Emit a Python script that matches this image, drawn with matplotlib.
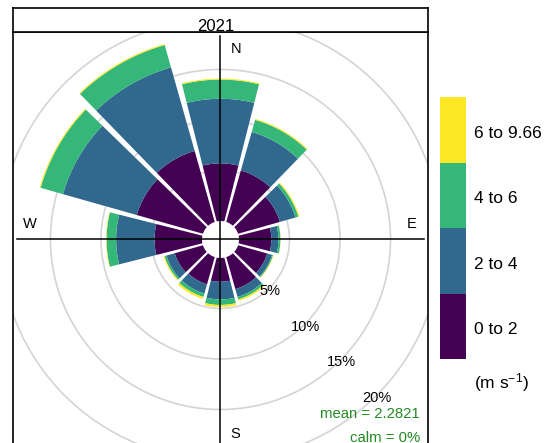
import numpy as np
import matplotlib.pyplot as plt
from matplotlib.patches import Polygon, Circle

plt.rcParams['font.family'] = ['Liberation Sans', 'DejaVu Sans']
plt.rcParams['mathtext.default'] = 'regular'

# === data: frequency (%) per direction and speed band ===
directions = [0, 30, 60, 90, 120, 150, 180, 210, 240, 270, 300, 330]
band_0_2 = [5.7, 5.3, 4.3, 3.2, 3.0, 3.3, 2.35, 2.8, 2.9, 4.7, 6.8, 7.3]
band_2_4 = [6.4, 3.95, 1.6, 0.7, 0.5, 0.8, 1.75, 0.95, 0.85, 3.8, 7.6, 8.6]
band_4_6 = [1.9, 1.25, 0.3, 0.2, 0.1, 0.25, 0.55, 0.35, 0.2, 0.95, 2.3, 2.3]
band_6_max = [0.1, 0.1, 0.1, 0.02, 0.05, 0.15, 0.2, 0.2, 0.1, 0.05, 0.1, 0.1]
bands = [band_0_2, band_2_4, band_4_6, band_6_max]
band_labels = ['0 to 2', '2 to 4', '4 to 6', '6 to 9.66']
band_colors = ['#440154', '#31688E', '#35B779', '#FDE725']
grid_levels = [5, 10, 15, 20]
panel_title = '2021'
mean_ws = 2.2821
calm_pct = 0

# === geometry ===
W, H = 549, 443
totals = np.sum(bands, axis=0)
max_freq = totals.max()
off = max_freq * 0.10          # centre hole, as in openair
lim = 20.54

fig = plt.figure(figsize=(W / 100, H / 100), dpi=100)
ax = fig.add_axes([13 / W, (H - 447) / H, 415 / W, 415 / H])
ax.set_xlim(-lim, lim)
ax.set_ylim(-lim, lim)
ax.set_xticks([])
ax.set_yticks([])
for s in ax.spines.values():
    s.set_linewidth(1.2)

# grid circles
for g in grid_levels:
    ax.add_patch(Circle((0, 0), off + g, fill=False, ec='#d4d4d4', lw=1.2, zorder=1))


def wedge(d, r1, r2, n=40):
    gap = 0.075
    def half(r):
        return np.radians(15 - 0.8) - np.arcsin(min(gap / r, 1))
    c = np.radians(d)
    t_out = np.linspace(c - half(r2), c + half(r2), n)
    t_in = np.linspace(c + half(r1), c - half(r1), n)
    xs = np.concatenate([r2 * np.sin(t_out), r1 * np.sin(t_in)])
    ys = np.concatenate([r2 * np.cos(t_out), r1 * np.cos(t_in)])
    return np.column_stack([xs, ys])


for i, d in enumerate(directions):
    start = off
    for b, col in zip(bands, band_colors):
        end = start + b[i]
        ax.add_patch(Polygon(wedge(d, start, end), closed=True, fc=col, ec='none', zorder=2))
        start = end

# cross
rr = max_freq + off
ax.plot([-rr, rr], [0, 0], color='black', lw=1.1, zorder=3)
ax.plot([0, 0], [-rr, rr], color='black', lw=1.1, zorder=3)

# compass labels
lr = 18.9
sh = 1.5
ax.text(sh, lr, 'N', ha='center', va='center', fontsize=10.5, zorder=4)
ax.text(sh, -lr - 0.4, 'S', ha='center', va='center', fontsize=10.5, zorder=4)
ax.text(lr, sh, 'E', ha='center', va='center', fontsize=10.5, zorder=4)
ax.text(-lr, sh, 'W', ha='center', va='center', fontsize=10.5, zorder=4)

# percentage labels along SE
for g in grid_levels:
    r = off + g
    ax.text(r * np.sin(np.radians(135)) + 0.05, r * np.cos(np.radians(135)) - 0.25,
            f'{g}%', ha='center', va='center', fontsize=10.5, zorder=4)

ax.text(19.75, -17.3, f'mean = {mean_ws}', ha='right', va='center',
        fontsize=10.7, color='#228B22', zorder=4)
ax.text(19.75, -19.65, f'calm = {calm_pct}%', ha='right', va='center',
        fontsize=10.7, color='#228B22', zorder=4)

# strip
strip = fig.add_axes([13 / W, (H - 32) / H, 415 / W, 24 / H])
strip.set_xticks([])
strip.set_yticks([])
for s in strip.spines.values():
    s.set_linewidth(1.2)
fig.text(216 / W, 1 - 31 / H, panel_title, ha='center', va='baseline', fontsize=12)

# key
key = fig.add_axes([440 / W, (H - 359) / H, 26 / W, 262 / H])
key.set_xlim(0, 1)
key.set_ylim(0, len(band_labels))
key.bar([0.5] * len(band_labels), [1] * len(band_labels), bottom=range(len(band_labels)),
        width=1, color=band_colors)
key.axis('off')
for i, lab in enumerate(band_labels):
    key.text(1.3, i + 0.45, lab, ha='left', va='center', fontsize=12.5,
             transform=key.transData)
fig.text(474 / W, 1 - 383 / H, '(m s$^{-1}$)', ha='left', va='center', fontsize=12.5)

fig.savefig('out.png', dpi=100)
